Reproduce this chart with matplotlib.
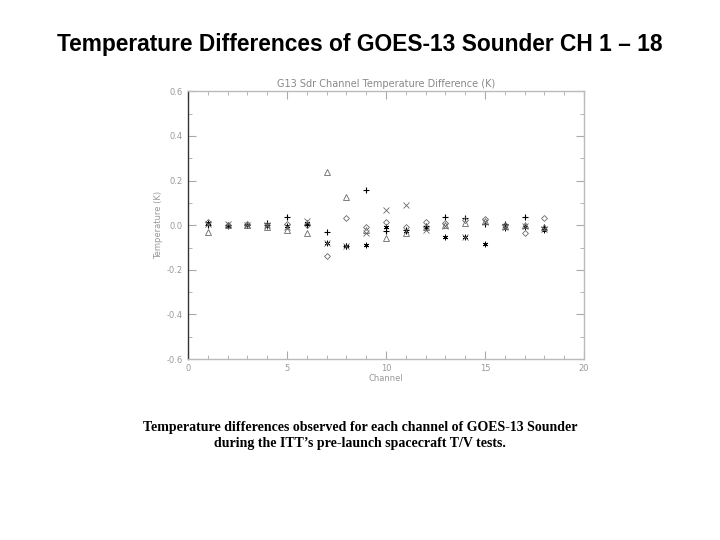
import numpy as np
import matplotlib.pyplot as plt
from matplotlib.ticker import MultipleLocator

# Channel numbers and temperature differences (K), one list per symbol
channels = list(range(1, 19))
plus_vals = [0.00, 0.00, 0.00, 0.01, 0.035, 0.00, -0.03, -0.095, 0.157, -0.025,
             -0.02, -0.005, 0.038, 0.034, 0.005, 0.005, 0.038, -0.006]
star_vals = [0.012, -0.005, 0.00, -0.005, -0.005, 0.01, -0.08, -0.095, -0.087, -0.01,
             -0.025, -0.01, -0.055, -0.055, -0.084, -0.013, -0.01, -0.02]
diamond_vals = [0.015, 0.00, 0.005, 0.00, 0.005, 0.00, -0.136, 0.03, -0.01, 0.015,
                -0.01, 0.015, 0.009, 0.025, 0.027, 0.00, -0.035, 0.033]
triangle_vals = [-0.03, 0.00, 0.00, -0.01, -0.02, -0.035, 0.237, 0.126, -0.02, -0.058,
                 -0.035, -0.006, 0.00, 0.009, 0.02, -0.005, 0.00, -0.01]
x_vals = [0.005, 0.005, 0.00, 0.00, -0.01, 0.02, -0.08, -0.095, -0.034, 0.068,
          0.089, -0.02, -0.005, -0.055, 0.016, -0.01, -0.003, -0.015]

fig = plt.figure(figsize=(7.2, 5.4), dpi=100)
fig.patch.set_facecolor('white')

fig.text(0.5, 0.917, 'Temperature Differences of GOES-13 Sounder CH 1 \u2013 18',
         ha='center', va='center', fontsize=16.4, fontweight='bold', family='Liberation Sans')

ax = fig.add_axes([0.261, 0.335, 0.550, 0.496])
ms = 4
ax.plot(channels, plus_vals, linestyle='none', marker='+', color='black', ms=ms + 1, mew=0.8)
ax.plot(channels, star_vals, linestyle='none', marker=(6, 2, 0), color='black', ms=ms, mew=0.6)
ax.plot(channels, diamond_vals, linestyle='none', marker='D', mfc='none', color='dimgray', ms=ms - 1, mew=0.6)
ax.plot(channels, triangle_vals, linestyle='none', marker='^', mfc='none', color='dimgray', ms=ms, mew=0.6)
ax.plot(channels, x_vals, linestyle='none', marker='x', color='dimgray', ms=ms, mew=0.6)

ax.set_xlim(0, 20)
ax.set_ylim(-0.6, 0.6)
ax.xaxis.set_major_locator(MultipleLocator(5))
ax.xaxis.set_minor_locator(MultipleLocator(1))
ax.yaxis.set_minor_locator(MultipleLocator(0.1))
ax.set_yticks([-0.6, -0.4, -0.2, 0.0, 0.2, 0.4, 0.6])
ax.set_yticklabels(['-0.6', '-0.4', '-0.2', '0.0', '0.2', '0.4', '0.6'])

for name, sp in ax.spines.items():
    sp.set_color('#bbbbbb')
    sp.set_linewidth(1.0)
ax.spines['left'].set_color('#333333')
ax.tick_params(which='both', direction='in', top=True, right=True, colors='#aaaaaa',
               labelcolor='#999999', labelsize=6)
ax.tick_params(which='major', length=6)
ax.tick_params(which='minor', length=3)

ax.set_title('G13 Sdr Channel Temperature Difference (K)', fontsize=7, color='#888888', pad=3)
ax.set_xlabel('Channel', fontsize=6, color='#999999', labelpad=1)
ax.set_ylabel('Temperature (K)', fontsize=6, color='#999999', labelpad=3)

fig.text(0.5, 0.209, 'Temperature differences observed for each channel of GOES-13 Sounder',
         ha='center', va='center', fontsize=10, fontweight='bold', family='Liberation Serif')
fig.text(0.5, 0.179, 'during the ITT\u2019s pre-launch spacecraft T/V tests.',
         ha='center', va='center', fontsize=10, fontweight='bold', family='Liberation Serif')

fig.savefig('out.png', dpi=100)
